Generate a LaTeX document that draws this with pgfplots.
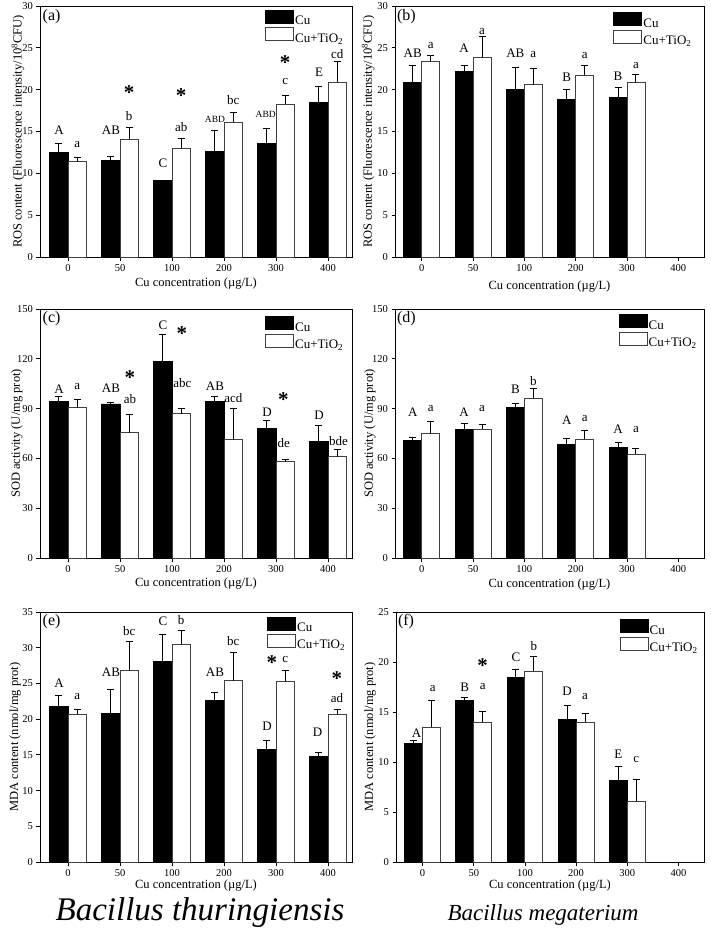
\documentclass[border=0pt]{standalone}
\usepackage{fontspec}
\setmainfont{Liberation Serif}
\usepackage{pgfplots}
\usepackage{pgfplotstable}
\pgfplotsset{compat=1.18}

\pgfplotstableread{
x cu cue ti tie
0 12.5 1.1 11.4 0.5
1 11.5 0.5 14.1 1.4
2 9.1 0.1 13.0 1.2
3 12.6 2.5 16.1 1.15
4 13.6 1.7 18.25 1.0
5 18.5 1.9 20.9 2.5
}\dataA
\pgfplotstableread{
x cu cue ti tie
0 20.9 2.0 23.4 0.7
1 22.2 0.7 23.85 2.45
2 20.0 2.7 20.6 1.9
3 18.8 1.2 21.7 1.2
4 19.05 1.2 20.85 1.0
}\dataB
\pgfplotstableread{
x cu cue ti tie
0 94.2 2.8 90.6 4.8
1 92.8 0.6 75.6 10.6
2 118.2 16.4 87.0 3.2
3 94.2 2.8 71.2 19.0
4 78.0 4.6 58.0 1.6
5 70.2 9.6 61.0 4.5
}\dataC
\pgfplotstableread{
x cu cue ti tie
0 70.8 2.0 75.2 7.2
1 77.2 3.6 77.6 2.8
2 90.8 2.4 96.2 6.1
3 68.4 3.4 71.6 5.2
4 66.8 3.0 62.6 3.6
}\dataD
\pgfplotstableread{
x cu cue ti tie
0 21.8 1.5 20.7 0.6
1 20.8 3.4 26.8 4.1
2 28.1 3.7 30.5 1.9
3 22.6 1.15 25.4 4.0
4 15.7 1.3 25.3 1.5
5 14.8 0.55 20.6 0.8
}\dataE
\pgfplotstableread{
x cu cue ti tie
0 11.9 0.3 13.5 2.7
1 16.2 0.3 14.0 1.1
2 18.5 0.8 19.1 1.5
3 14.3 1.4 14.0 0.9
4 8.2 1.4 6.1 2.2
}\dataF

\pgfplotsset{
  panel/.style={
    scale only axis,
    axis line style={line width=0.9pt},
    tick align=outside,
    major tick length=3.5pt,
    every tick/.style={black, line width=0.8pt},
    xtick pos=left, ytick pos=left,
    xtick={0,...,5},
    xticklabels={0,50,100,200,300,400},
    ymin=0,
    tick label style={font=\fontsize{10.5}{12}\selectfont},
    label style={font=\fontsize{12.5}{14}\selectfont},
    /pgf/number format/assume math mode=true,
    legend style={draw=none, fill=none, inner sep=0pt, anchor=north west,
      font=\fontsize{13}{14}\selectfont, row sep=0pt, nodes={inner sep=1.2pt}},
    legend cell align=left,
    clip=false,
    xlabel={Cu concentration (µg/L)},
  },
  leftpanel/.style={panel, width=312pt, xmin=-0.54, xmax=5.46},
  rightpanel/.style={panel, width=309pt, xmin=-0.52, xmax=5.5},
  cubar/.style={ybar, bar width=0.35, bar shift=0pt, fill=black, draw=black, line width=0.8pt,
    legend image code/.code={\draw[fill=black,draw=black,line width=0.8pt] (0pt,-2.2pt) rectangle (28pt,10.8pt);},
    error bars/y dir=plus, error bars/y explicit,
    error bars/error bar style={black, line width=1pt},
    error bars/error mark options={black, line width=1pt, mark size=3.5pt, rotate=90}},
  tibar/.style={ybar, bar width=0.35, bar shift=0pt, fill=white, draw=black!75, line width=0.9pt,
    legend image code/.code={\draw[fill=white,draw=black!75,line width=0.9pt] (0pt,-2.2pt) rectangle (28pt,10.8pt);},
    error bars/y dir=plus, error bars/y explicit,
    error bars/error bar style={black, line width=1pt},
    error bars/error mark options={black, line width=1pt, mark size=3.5pt, rotate=90}},
}
\tikzset{
  lab/.style={font=\fontsize{13}{14}\selectfont, inner sep=0pt},
  slab/.style={font=\fontsize{9.5}{11}\selectfont, inner sep=0pt},
  star/.style={font=\fontsize{21}{21}\selectfont\bfseries, inner sep=0pt},
  plab/.style={font=\fontsize{16}{18}\selectfont, inner sep=0pt, anchor=north west},
}
\newcommand{\st}{\raisebox{-0.46em}[0pt][0pt]{*}}
\newcommand{\cuplot}[1]{\addplot[cubar] table[x expr=\thisrow{x}-0.175,y=cu,y error=cue]{#1};}
\newcommand{\tiplot}[1]{\addplot[tibar] table[x expr=\thisrow{x}+0.175,y=ti,y error=tie]{#1};}

\begin{document}
\begin{tikzpicture}
\useasboundingbox (0,0) rectangle (710pt,-935pt);

% (a)
\begin{axis}[leftpanel, at={(40pt,-257pt)}, anchor=south west, height=251pt,
  ymax=30, ytick={0,5,...,30},
  ylabel={ROS content (Fluorescence intensity/10\textsuperscript{8}CFU)},
  ylabel style={at={(axis description cs:-0.0705,0.5)}, anchor=center},
  xlabel style={at={(axis description cs:0.5,0)}, anchor=center, yshift=-27pt},
  legend style={at={(0.721,0.985)}}]
\cuplot{\dataA}
\addlegendentry{Cu}
\tiplot{\dataA}
\addlegendentry{Cu+TiO\textsubscript{2}}
\node[plab] at (rel axis cs:0.008,0.988) {(a)};
\node[lab] at (axis cs:-0.175,15.2) {A};
\node[lab] at (axis cs:0.175,13.5) {a};
\node[lab] at (axis cs:0.825,15.1) {AB};
\node[lab] at (axis cs:1.175,16.8) {b};
\node[star] at (axis cs:1.175,20.0) {\st};
\node[lab] at (axis cs:1.825,11.2) {C};
\node[lab] at (axis cs:2.175,15.5) {ab};
\node[star] at (axis cs:2.175,19.6) {\st};
\node[slab] at (axis cs:2.825,16.4) {ABD};
\node[lab] at (axis cs:3.175,18.8) {bc};
\node[slab] at (axis cs:3.80,17.1) {ABD};
\node[lab] at (axis cs:4.175,20.95) {c};
\node[star] at (axis cs:4.175,23.6) {\st};
\node[lab] at (axis cs:4.825,22.1) {E};
\node[lab] at (axis cs:5.175,24.3) {cd};
\end{axis}

% (b)
\begin{axis}[rightpanel, at={(395pt,-257pt)}, anchor=south west, height=251pt,
  ymax=30, ytick={0,5,...,30},
  ylabel={ROS content (Fluorescence intensity/10\textsuperscript{8}CFU)},
  ylabel style={at={(axis description cs:-0.087,0.5)}, anchor=center},
  xlabel style={at={(axis description cs:0.5,0)}, anchor=center, yshift=-30pt},
  legend style={at={(0.706,0.975)}}]
\cuplot{\dataB}
\addlegendentry{Cu}
\tiplot{\dataB}
\addlegendentry{Cu+TiO\textsubscript{2}}
\node[plab] at (rel axis cs:0.006,0.988) {(b)};
\node[lab] at (axis cs:-0.175,24.3) {AB};
\node[lab] at (axis cs:0.175,25.3) {a};
\node[lab] at (axis cs:0.825,24.9) {A};
\node[lab] at (axis cs:1.175,27.0) {a};
\node[lab] at (axis cs:1.825,24.3) {AB};
\node[lab] at (axis cs:2.175,24.2) {a};
\node[lab] at (axis cs:2.825,21.5) {B};
\node[lab] at (axis cs:3.175,24.1) {a};
\node[lab] at (axis cs:3.825,21.6) {B};
\node[lab] at (axis cs:4.175,22.9) {a};
\end{axis}

% (c)
\begin{axis}[leftpanel, at={(40pt,-558pt)}, anchor=south west, height=249pt,
  ymax=150, ytick={0,30,...,150},
  ylabel={SOD activity (U/mg prot)},
  ylabel style={at={(axis description cs:-0.0737,0.5)}, anchor=center},
  xlabel style={at={(axis description cs:0.5,0)}, anchor=center, yshift=-26pt},
  legend style={at={(0.721,0.971)}}]
\cuplot{\dataC}
\addlegendentry{Cu}
\tiplot{\dataC}
\addlegendentry{Cu+TiO\textsubscript{2}}
\node[plab] at (rel axis cs:0.008,0.99) {(c)};
\node[lab] at (axis cs:-0.175,101.6) {A};
\node[lab] at (axis cs:0.175,103.6) {a};
\node[lab] at (axis cs:0.825,102.2) {AB};
\node[star] at (axis cs:1.19,110.2) {\st};
\node[lab] at (axis cs:1.19,95.6) {ab};
\node[lab] at (axis cs:1.825,140.0) {C};
\node[star] at (axis cs:2.19,136.6) {\st};
\node[lab] at (axis cs:2.2,105.6) {abc};
\node[lab] at (axis cs:2.825,103.5) {AB};
\node[lab] at (axis cs:3.18,96.6) {acd};
\node[star] at (axis cs:4.14,97.0) {\st};
\node[lab] at (axis cs:3.825,88.0) {D};
\node[lab] at (axis cs:4.15,69.0) {de};
\node[lab] at (axis cs:4.825,86.0) {D};
\node[lab] at (axis cs:5.2,70.5) {bde};
\end{axis}

% (d)
\begin{axis}[rightpanel, at={(395pt,-558pt)}, anchor=south west, height=249pt,
  ymax=150, ytick={0,30,...,150},
  ylabel={SOD activity (U/mg prot)},
  ylabel style={at={(axis description cs:-0.081,0.5)}, anchor=center},
  xlabel style={at={(axis description cs:0.5,0)}, anchor=center, yshift=-27pt},
  legend style={at={(0.723,0.979)}}]
\cuplot{\dataD}
\addlegendentry{Cu}
\tiplot{\dataD}
\addlegendentry{Cu+TiO\textsubscript{2}}
\node[plab] at (rel axis cs:0.006,0.99) {(d)};
\node[lab] at (axis cs:-0.175,87.8) {A};
\node[lab] at (axis cs:0.175,89.8) {a};
\node[lab] at (axis cs:0.825,87.8) {A};
\node[lab] at (axis cs:1.175,89.8) {a};
\node[lab] at (axis cs:1.825,101.9) {B};
\node[lab] at (axis cs:2.175,106.9) {b};
\node[lab] at (axis cs:2.825,83.2) {A};
\node[lab] at (axis cs:3.175,83.8) {a};
\node[lab] at (axis cs:3.825,77.8) {A};
\node[lab] at (axis cs:4.175,77.2) {a};
\end{axis}

% (e)
\begin{axis}[leftpanel, at={(40pt,-862pt)}, anchor=south west, height=250pt,
  ymax=35, ytick={0,5,...,35},
  ylabel={MDA content (nmol/mg prot)},
  ylabel style={at={(axis description cs:-0.08,0.5)}, anchor=center},
  xlabel style={at={(axis description cs:0.5,0)}, anchor=center, yshift=-24pt},
  legend style={at={(0.727,0.982)}}]
\cuplot{\dataE}
\addlegendentry{Cu}
\tiplot{\dataE}
\addlegendentry{Cu+TiO\textsubscript{2}}
\node[plab] at (rel axis cs:0.008,0.992) {(e)};
\node[lab] at (axis cs:-0.175,25.0) {A};
\node[lab] at (axis cs:0.175,23.1) {a};
\node[lab] at (axis cs:0.825,26.6) {AB};
\node[lab] at (axis cs:1.175,32.3) {bc};
\node[lab] at (axis cs:1.825,33.7) {C};
\node[lab] at (axis cs:2.175,33.9) {b};
\node[lab] at (axis cs:2.825,26.5) {AB};
\node[lab] at (axis cs:3.175,30.9) {bc};
\node[star] at (axis cs:3.92,28.3) {\st};
\node[lab] at (axis cs:4.175,28.4) {c};
\node[lab] at (axis cs:3.825,19.0) {D};
\node[star] at (axis cs:5.17,26.0) {\st};
\node[lab] at (axis cs:5.17,23.0) {ad};
\node[lab] at (axis cs:4.80,18.1) {D};
\end{axis}

% (f)
\begin{axis}[rightpanel, width=308pt, at={(396pt,-862pt)}, anchor=south west, height=250pt,
  ymax=25, ytick={0,5,...,25},
  ylabel={MDA content (nmol/mg prot)},
  ylabel style={at={(axis description cs:-0.084,0.5)}, anchor=center},
  xlabel style={at={(axis description cs:0.5,0)}, anchor=center, yshift=-24pt},
  legend style={at={(0.725,0.971)}}]
\cuplot{\dataF}
\addlegendentry{Cu}
\tiplot{\dataF}
\addlegendentry{Cu+TiO\textsubscript{2}}
\node[plab] at (rel axis cs:0.006,0.992) {(f)};
\node[lab] at (axis cs:-0.12,12.9) {A};
\node[lab] at (axis cs:0.2,17.3) {a};
\node[lab] at (axis cs:0.825,17.5) {B};
\node[star] at (axis cs:1.175,19.9) {\st};
\node[lab] at (axis cs:1.175,17.5) {a};
\node[lab] at (axis cs:1.825,20.5) {C};
\node[lab] at (axis cs:2.175,21.6) {b};
\node[lab] at (axis cs:2.825,17.1) {D};
\node[lab] at (axis cs:3.175,16.5) {a};
\node[lab] at (axis cs:3.825,10.8) {E};
\node[lab] at (axis cs:4.175,10.3) {c};
\end{axis}

\node[font=\fontsize{33}{36}\selectfont\itshape] at (200pt,-913pt) {Bacillus thuringiensis};
\node[font=\fontsize{23}{26}\selectfont\itshape] at (543pt,-915pt) {Bacillus megaterium};
\end{tikzpicture}
\end{document}
